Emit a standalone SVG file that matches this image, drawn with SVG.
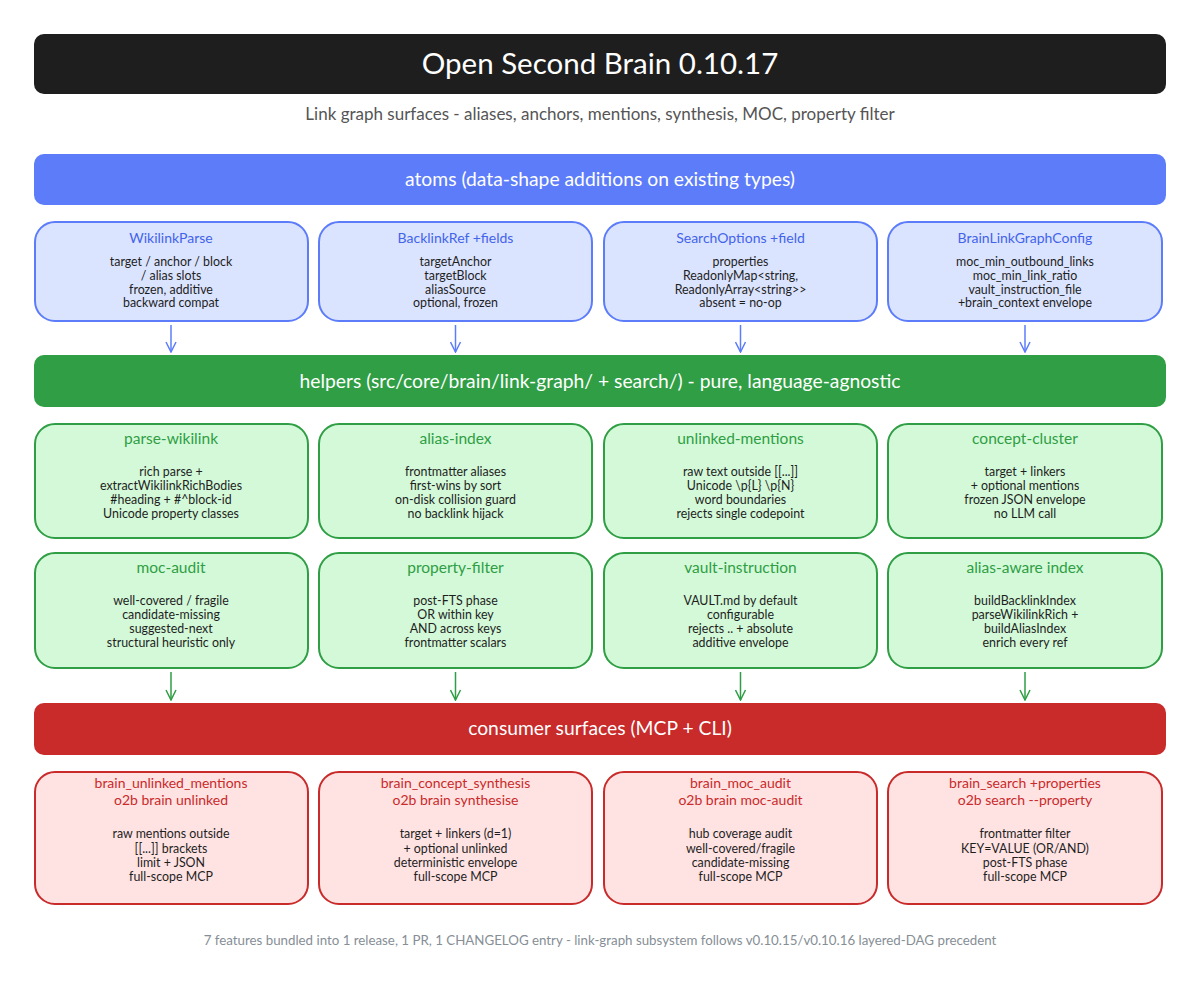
<svg xmlns="http://www.w3.org/2000/svg" width="1200" height="983" viewBox="0 0 1200 983">
<defs>
<style>
text{font-family:"Lato","Noto Sans",sans-serif;text-anchor:middle}
.title{fill:#fff;font-size:29.5px}
.sub{fill:#555;font-size:17px}
.band{fill:#fff;font-size:19.3px}
.foot{fill:#868e96;font-size:13.3px}
.b{fill:#1e1e1e;font-size:12.4px}
.at{fill:#4263eb;font-size:14px}
.ht{fill:#2f9e44;font-size:15.5px}
.ct{fill:#c92a2a;font-size:14px}
.abox{fill:#dbe4ff;stroke:#5c7cfa;stroke-width:2}
.hbox{fill:#d3f9d8;stroke:#2f9e44;stroke-width:2}
.cbox{fill:#ffe3e3;stroke:#c92a2a;stroke-width:2}
.ba{stroke:#5c7cfa;stroke-width:1.5;fill:none}
.ga{stroke:#2f9e44;stroke-width:1.5;fill:none}
</style>
<marker id="mb" viewBox="0 0 12 12" refX="11" refY="6" markerWidth="12" markerHeight="12" markerUnits="userSpaceOnUse" orient="auto"><path d="M1,1 L11,6 L1,11" fill="none" stroke="#5c7cfa" stroke-width="1.5"/></marker>
<marker id="mg" viewBox="0 0 12 12" refX="11" refY="6" markerWidth="12" markerHeight="12" markerUnits="userSpaceOnUse" orient="auto"><path d="M1,1 L11,6 L1,11" fill="none" stroke="#2f9e44" stroke-width="1.5"/></marker>
</defs>
<rect width="1200" height="983" fill="#fff"/>

<g id="header">
<rect x="34" y="34" width="1132" height="60" rx="10" fill="#1e1e1e"/>
<text class="title" x="600" y="74">Open Second Brain 0.10.17</text>
<text class="sub" x="600" y="120">Link graph surfaces - aliases, anchors, mentions, synthesis, MOC, property filter</text>
</g>

<g id="band-atoms">
<rect x="34" y="154" width="1132" height="51" rx="10" fill="#5c7cfa"/>
<text class="band" x="600" y="186">atoms (data-shape additions on existing types)</text>
</g>

<g id="atom-wikilinkparse">
<rect class="abox" x="35" y="222" width="273" height="99" rx="20"/>
<text class="at" x="171" y="243">WikilinkParse</text>
<text class="b" x="171" y="266">target / anchor / block</text>
<text class="b" x="171" y="280">/ alias slots</text>
<text class="b" x="171" y="294">frozen, additive</text>
<text class="b" x="171" y="307">backward compat</text>
</g>
<g id="atom-backlinkref">
<rect class="abox" x="319" y="222" width="273" height="99" rx="20"/>
<text class="at" x="455.5" y="243">BacklinkRef +fields</text>
<text class="b" x="455.5" y="266">targetAnchor</text>
<text class="b" x="455.5" y="280">targetBlock</text>
<text class="b" x="455.5" y="294">aliasSource</text>
<text class="b" x="455.5" y="307">optional, frozen</text>
</g>
<g id="atom-searchoptions">
<rect class="abox" x="604" y="222" width="273" height="99" rx="20"/>
<text class="at" x="740.5" y="243">SearchOptions +field</text>
<text class="b" x="740.5" y="266">properties</text>
<text class="b" x="740.5" y="280">ReadonlyMap&lt;string,</text>
<text class="b" x="740.5" y="294">ReadonlyArray&lt;string&gt;&gt;</text>
<text class="b" x="740.5" y="307">absent = no-op</text>
</g>
<g id="atom-config">
<rect class="abox" x="888" y="222" width="274" height="99" rx="20"/>
<text class="at" x="1025" y="243">BrainLinkGraphConfig</text>
<text class="b" x="1025" y="266">moc_min_outbound_links</text>
<text class="b" x="1025" y="280">moc_min_link_ratio</text>
<text class="b" x="1025" y="294">vault_instruction_file</text>
<text class="b" x="1025" y="307">+brain_context envelope</text>
</g>

<g id="band-helpers">
<rect x="34" y="355" width="1132" height="52" rx="10" fill="#2f9e44"/>
<text class="band" x="600" y="388">helpers (src/core/brain/link-graph/ + search/) - pure, language-agnostic</text>
</g>

<g id="helper-parse-wikilink">
<rect class="hbox" x="35" y="424" width="273" height="114" rx="20"/>
<text class="ht" x="171" y="444">parse-wikilink</text>
<text class="b" x="171" y="476">rich parse +</text>
<text class="b" x="171" y="490">extractWikilinkRichBodies</text>
<text class="b" x="171" y="504">#heading + #^block-id</text>
<text class="b" x="171" y="518">Unicode property classes</text>
</g>
<g id="helper-alias-index">
<rect class="hbox" x="319" y="424" width="273" height="114" rx="20"/>
<text class="ht" x="455.5" y="444">alias-index</text>
<text class="b" x="455.5" y="476">frontmatter aliases</text>
<text class="b" x="455.5" y="490">first-wins by sort</text>
<text class="b" x="455.5" y="504">on-disk collision guard</text>
<text class="b" x="455.5" y="518">no backlink hijack</text>
</g>
<g id="helper-unlinked-mentions">
<rect class="hbox" x="604" y="424" width="273" height="114" rx="20"/>
<text class="ht" x="740.5" y="444">unlinked-mentions</text>
<text class="b" x="740.5" y="476">raw text outside [[...]]</text>
<text class="b" x="740.5" y="490">Unicode \p{L} \p{N}</text>
<text class="b" x="740.5" y="504">word boundaries</text>
<text class="b" x="740.5" y="518">rejects single codepoint</text>
</g>
<g id="helper-concept-cluster">
<rect class="hbox" x="888" y="424" width="274" height="114" rx="20"/>
<text class="ht" x="1025" y="444">concept-cluster</text>
<text class="b" x="1025" y="476">target + linkers</text>
<text class="b" x="1025" y="490">+ optional mentions</text>
<text class="b" x="1025" y="504">frozen JSON envelope</text>
<text class="b" x="1025" y="518">no LLM call</text>
</g>

<g id="helper-moc-audit">
<rect class="hbox" x="35" y="553" width="273" height="115" rx="20"/>
<text class="ht" x="171" y="573">moc-audit</text>
<text class="b" x="171" y="605">well-covered / fragile</text>
<text class="b" x="171" y="619">candidate-missing</text>
<text class="b" x="171" y="633">suggested-next</text>
<text class="b" x="171" y="647">structural heuristic only</text>
</g>
<g id="helper-property-filter">
<rect class="hbox" x="319" y="553" width="273" height="115" rx="20"/>
<text class="ht" x="455.5" y="573">property-filter</text>
<text class="b" x="455.5" y="605">post-FTS phase</text>
<text class="b" x="455.5" y="619">OR within key</text>
<text class="b" x="455.5" y="633">AND across keys</text>
<text class="b" x="455.5" y="647">frontmatter scalars</text>
</g>
<g id="helper-vault-instruction">
<rect class="hbox" x="604" y="553" width="273" height="115" rx="20"/>
<text class="ht" x="740.5" y="573">vault-instruction</text>
<text class="b" x="740.5" y="605">VAULT.md by default</text>
<text class="b" x="740.5" y="619">configurable</text>
<text class="b" x="740.5" y="633">rejects .. + absolute</text>
<text class="b" x="740.5" y="647">additive envelope</text>
</g>
<g id="helper-alias-aware-index">
<rect class="hbox" x="888" y="553" width="274" height="115" rx="20"/>
<text class="ht" x="1025" y="573">alias-aware index</text>
<text class="b" x="1025" y="605">buildBacklinkIndex</text>
<text class="b" x="1025" y="619">parseWikilinkRich +</text>
<text class="b" x="1025" y="633">buildAliasIndex</text>
<text class="b" x="1025" y="647">enrich every ref</text>
</g>

<g id="band-consumers">
<rect x="34" y="703" width="1132" height="52" rx="10" fill="#c92a2a"/>
<text class="band" x="600" y="735">consumer surfaces (MCP + CLI)</text>
</g>

<g id="consumer-unlinked">
<rect class="cbox" x="35" y="772" width="273" height="132" rx="20"/>
<text class="ct" x="171" y="788">brain_unlinked_mentions</text>
<text class="ct" x="171" y="805">o2b brain unlinked</text>
<text class="b" x="171" y="838">raw mentions outside</text>
<text class="b" x="171" y="853">[[...]] brackets</text>
<text class="b" x="171" y="867">limit + JSON</text>
<text class="b" x="171" y="881">full-scope MCP</text>
</g>
<g id="consumer-synthesis">
<rect class="cbox" x="319" y="772" width="273" height="132" rx="20"/>
<text class="ct" x="455.5" y="788">brain_concept_synthesis</text>
<text class="ct" x="455.5" y="805">o2b brain synthesise</text>
<text class="b" x="455.5" y="838">target + linkers (d=1)</text>
<text class="b" x="455.5" y="853">+ optional unlinked</text>
<text class="b" x="455.5" y="867">deterministic envelope</text>
<text class="b" x="455.5" y="881">full-scope MCP</text>
</g>
<g id="consumer-moc-audit">
<rect class="cbox" x="604" y="772" width="273" height="132" rx="20"/>
<text class="ct" x="740.5" y="788">brain_moc_audit</text>
<text class="ct" x="740.5" y="805">o2b brain moc-audit</text>
<text class="b" x="740.5" y="838">hub coverage audit</text>
<text class="b" x="740.5" y="853">well-covered/fragile</text>
<text class="b" x="740.5" y="867">candidate-missing</text>
<text class="b" x="740.5" y="881">full-scope MCP</text>
</g>
<g id="consumer-search">
<rect class="cbox" x="888" y="772" width="274" height="132" rx="20"/>
<text class="ct" x="1025" y="788">brain_search +properties</text>
<text class="ct" x="1025" y="805">o2b search --property</text>
<text class="b" x="1025" y="838">frontmatter filter</text>
<text class="b" x="1025" y="853">KEY=VALUE (OR/AND)</text>
<text class="b" x="1025" y="867">post-FTS phase</text>
<text class="b" x="1025" y="881">full-scope MCP</text>
</g>

<g id="connectors">
<line class="ba" x1="171" y1="325" x2="171" y2="352" marker-end="url(#mb)"/>
<line class="ba" x1="455.5" y1="325" x2="455.5" y2="352" marker-end="url(#mb)"/>
<line class="ba" x1="740.5" y1="325" x2="740.5" y2="352" marker-end="url(#mb)"/>
<line class="ba" x1="1025" y1="325" x2="1025" y2="352" marker-end="url(#mb)"/>
<line class="ga" x1="171" y1="672" x2="171" y2="700" marker-end="url(#mg)"/>
<line class="ga" x1="455.5" y1="672" x2="455.5" y2="700" marker-end="url(#mg)"/>
<line class="ga" x1="740.5" y1="672" x2="740.5" y2="700" marker-end="url(#mg)"/>
<line class="ga" x1="1025" y1="672" x2="1025" y2="700" marker-end="url(#mg)"/>
</g>

<g id="footer">
<text class="foot" x="600" y="945">7 features bundled into 1 release, 1 PR, 1 CHANGELOG entry - link-graph subsystem follows v0.10.15/v0.10.16 layered-DAG precedent</text>
</g>
</svg>
